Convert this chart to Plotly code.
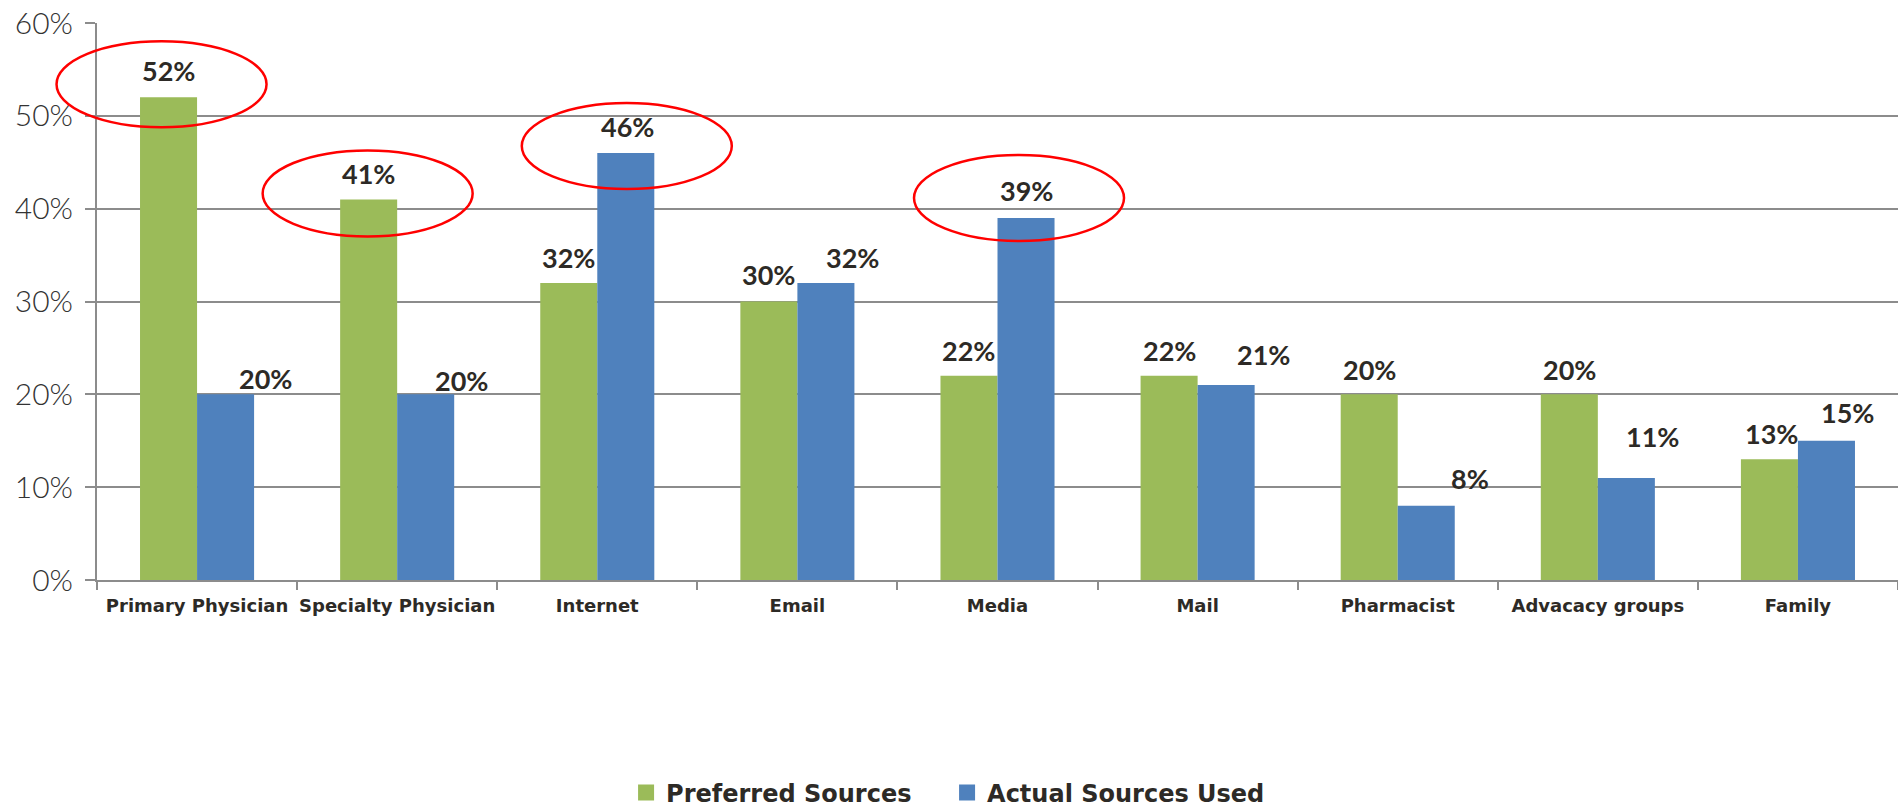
import plotly.graph_objects as go

# ---- data ----
categories = ["Primary Physician", "Specialty Physician", "Internet", "Email", "Media",
              "Mail", "Pharmacist", "Advacacy groups", "Family"]
preferred = [52, 41, 32, 30, 22, 22, 20, 20, 13]
actual = [20, 20, 46, 32, 39, 21, 8, 11, 15]
series_names = ["Preferred Sources", "Actual Sources Used"]
y_ticks = [0, 10, 20, 30, 40, 50, 60]
y_tick_text = [f"{v}%" for v in y_ticks]

# ---- label placement tweaks (pixels) ----
pref_dx = [0, 0, 0, 0, 0, 0, 0, 0, 2]
pref_gap = [27, 26, 25, 27, 25, 25, 25, 25, 26]
act_dx = [40, 36, 2, 27, 0, 37, 44, 26, 21]
act_gap = [16, 14, 26, 25, 27, 31, 27, 41, 28]

# highlighted values: (category index, series index, dx px, dy px)
highlights = [(0, 0, -7, 13), (1, 0, -1, 6), (2, 1, 1, 7), (4, 1, -7, 20)]

GREEN = "#9BBB59"
BLUE = "#4F81BD"
TEXT = "#2d2a26"
GRID = "#8c8c8c"
FONT = "Lato"
WIDE = "DejaVu Sans"

BARGAP = 0.43
half = (1 - BARGAP) / 4  # offset of each bar centre from category centre
n = len(categories)

fig = go.Figure()
fig.add_trace(go.Bar(x=categories, y=preferred, name=series_names[0],
                     marker=dict(color=GREEN, line=dict(width=0)), showlegend=False))
fig.add_trace(go.Bar(x=categories, y=actual, name=series_names[1],
                     marker=dict(color=BLUE, line=dict(width=0)), showlegend=False))

# legend entries (square markers)
for nm, col in zip(series_names, [GREEN, BLUE]):
    fig.add_trace(go.Scatter(x=[None], y=[None], mode="markers", name=nm,
                             marker=dict(symbol="square", size=16, color=col)))

annotations = []
series = [preferred, actual]
dxs = [pref_dx, act_dx]
gaps = [pref_gap, act_gap]
for s, vals in enumerate(series):
    sign = -1 if s == 0 else 1
    for i, v in enumerate(vals):
        annotations.append(dict(
            x=i + sign * half, y=v, xref="x", yref="y",
            text=f"{v}%", showarrow=False,
            xanchor="center", yanchor="middle",
            xshift=dxs[s][i], yshift=gaps[s][i],
            font=dict(family=FONT, size=27, color=TEXT, weight="bold"),
        ))

shapes = []
for (ci, si, dx, dy) in highlights:
    sign = -1 if si == 0 else 1
    shapes.append(dict(
        type="circle", xref="paper", yref="y",
        xsizemode="pixel", ysizemode="pixel",
        xanchor=(ci + sign * half + 0.5) / n, yanchor=series[si][ci],
        x0=dx - 105, x1=dx + 105, y0=dy - 43, y1=dy + 43,
        line=dict(color="#FF0000", width=2.5),
        fillcolor="rgba(0,0,0,0)",
    ))

fig.update_layout(
    width=1898, height=809,
    margin=dict(l=97, r=0, t=23, b=229, autoexpand=False),
    paper_bgcolor="white", plot_bgcolor="white",
    barmode="group", bargap=BARGAP, bargroupgap=0,
    annotations=annotations, shapes=shapes,
    font=dict(family=FONT, color=TEXT),
    legend=dict(orientation="h", x=0.472, xanchor="center",
                y=-0.3824, yanchor="middle",
                font=dict(family=WIDE, size=24, color=TEXT, weight="bold"),
                itemwidth=30, entrywidth=276, entrywidthmode="pixels"),
)
fig.update_xaxes(
    type="category", categoryorder="array", categoryarray=categories,
    range=[-0.5, n - 0.5], automargin=False, tickangle=0,
    showline=True, linecolor=GRID, linewidth=2,
    ticks="outside", tickson="boundaries", ticklen=8, tickcolor=GRID, tickwidth=2,
    tickfont=dict(family=WIDE, size=18, color=TEXT, weight="bold"),
    ticklabelstandoff=8,
    showgrid=False, zeroline=False,
)
fig.update_yaxes(
    range=[0, 60], tickvals=y_ticks, ticktext=y_tick_text, automargin=False,
    showline=True, linecolor=GRID, linewidth=2,
    ticks="outside", ticklen=10, tickcolor=GRID, tickwidth=2,
    showgrid=True, gridcolor=GRID, gridwidth=2,
    zeroline=False, ticklabeloverflow="allow",
    tickfont=dict(family=FONT, size=30, color="#333333", weight=300),
    ticklabelstandoff=6,
)

fig.write_html("out.html", config={"displayModeBar": False},
               post_script="document.body.style.margin='0';document.body.style.overflow='hidden';")
